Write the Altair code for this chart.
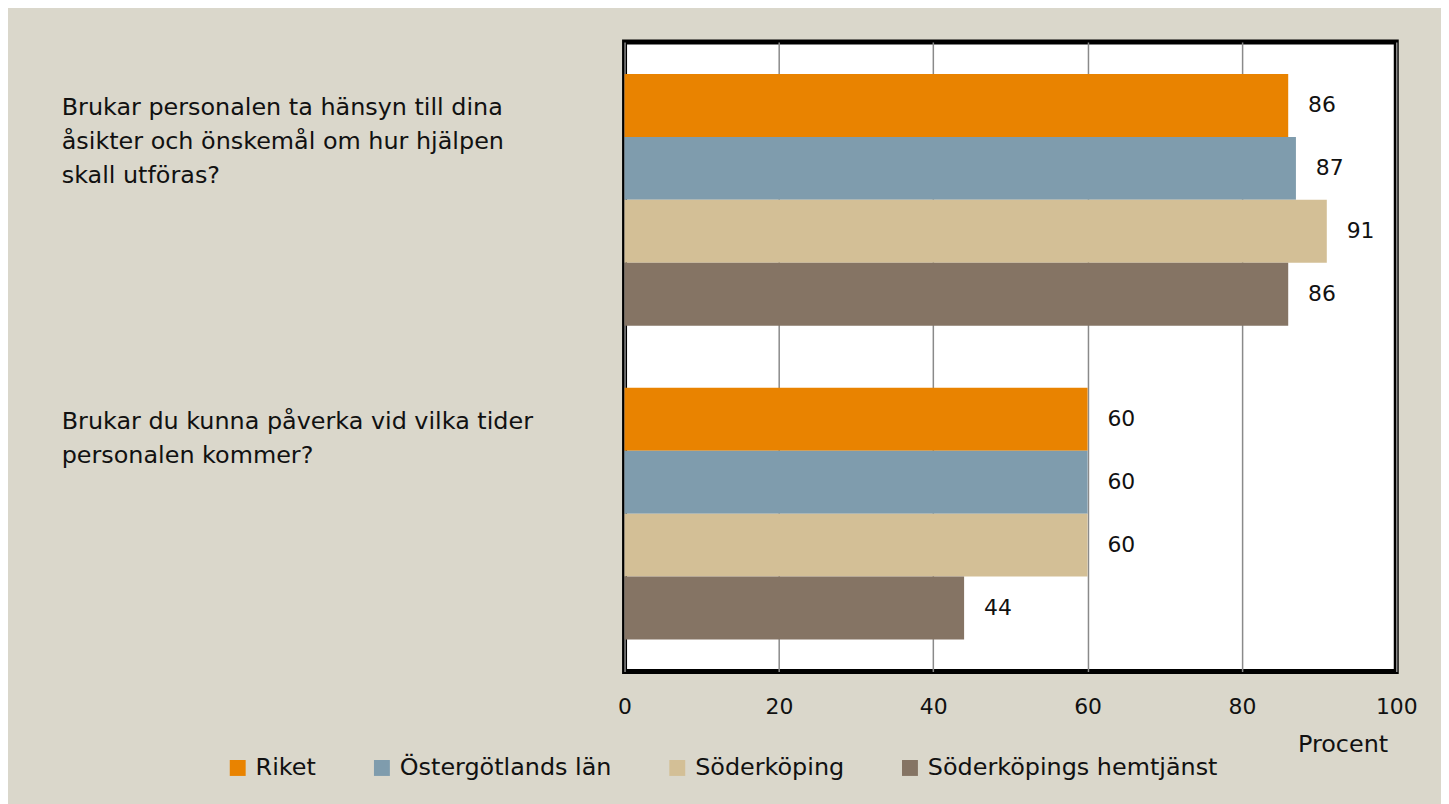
import altair as alt
import pandas as pd

question_ids = ["Q1", "Q2"]
question_lines = [
    ["Brukar personalen ta hänsyn till dina", "åsikter och önskemål om hur hjälpen", "skall utföras?"],
    ["Brukar du kunna påverka vid vilka tider", "personalen kommer?"],
]
series = ["Riket", "Östergötlands län", "Söderköping", "Söderköpings hemtjänst"]
values_q1 = [86, 87, 91, 86]
values_q2 = [60, 60, 60, 44]
colors = ["#E98300", "#7F9CAD", "#D3BF96", "#857464"]
x_ticks = [0, 20, 40, 60, 80, 100]

FONT = "DejaVu Sans"
FS = 24
FS_NUM = 22
TXT = "#111111"

rows = []
for qid, vals in zip(question_ids, [values_q1, values_q2]):
    for s, v in zip(series, vals):
        rows.append({"q": qid, "series": s, "value": v})
df = pd.DataFrame(rows)
dq = pd.DataFrame({"q": question_ids, "label": ["\n".join(l) for l in question_lines]})

y_enc = alt.Y("q:N", sort=question_ids,
              scale=alt.Scale(paddingInner=0.198, paddingOuter=0.102), axis=None)
yoff = alt.YOffset("series:N", sort=series, scale=alt.Scale(paddingInner=0, paddingOuter=0))

x_enc = alt.X("value:Q", scale=alt.Scale(domain=[0, 100], nice=False),
              axis=alt.Axis(values=x_ticks, grid=True, gridColor="#8a8a8a", gridWidth=1.5,
                            domain=False, ticks=False, labelFlush=False,
                            labelFont=FONT, labelFontSize=FS_NUM, labelColor=TXT, labelPadding=25,
                            title="Procent", titleFont=FONT, titleFontSize=FS, titleFontWeight="normal",
                            titleColor=TXT, titleX=722, titleY=73, titleAlign="center",
                            titleBaseline="middle", titleAnchor=None))

bars = alt.Chart(df).mark_bar().encode(
    x=x_enc,
    y=y_enc,
    yOffset=yoff,
    color=alt.Color("series:N", sort=series,
                    scale=alt.Scale(domain=series, range=colors),
                    legend=alt.Legend(orient="none", legendX=-401, legendY=718,
                                      direction="horizontal", title=None,
                                      symbolType="square", symbolSize=256,
                                      symbolStrokeWidth=0, symbolOpacity=1,
                                      labelFont=FONT, labelFontSize=FS, labelColor=TXT,
                                      labelOffset=6, columnPadding=54, labelLimit=0)),
)

vals = alt.Chart(df).mark_text(align="left", baseline="middle", dx=20,
                               font=FONT, fontSize=FS_NUM, color=TXT).encode(
    x="value:Q", y=y_enc, yOffset=yoff, text="value:Q")

qtext = alt.Chart(dq).mark_text(align="left", baseline="top", dy=-104, lineBreak="\n",
                                lineHeight=34, font=FONT, fontSize=FS, color=TXT).encode(
    x=alt.value(-566), y=y_enc, text="label:N")

chart = alt.layer(bars, vals, qtext).properties(
    width=776, height=633,
    autosize=alt.AutoSizeParams(type="none"),
    padding={"left": 620, "top": 32, "right": 45, "bottom": 131},
    background="#DAD7CB",
).configure_view(fill="white", stroke="black", strokeWidth=5)

chart.save("out.html", embed_options={"renderer": "svg", "actions": False})
